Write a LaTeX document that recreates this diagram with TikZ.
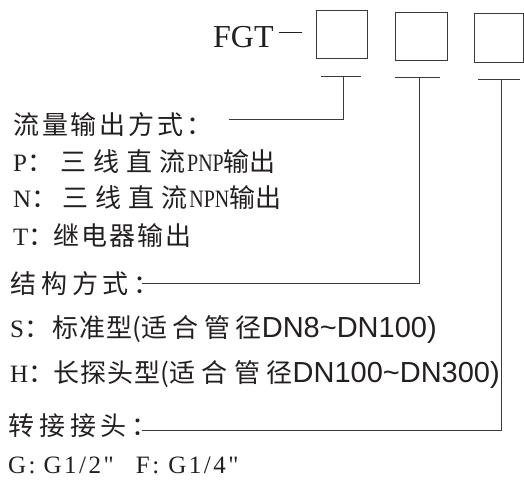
\documentclass[tikz,border=0pt]{standalone}
\usepackage{fontspec}
\setmainfont{Liberation Serif}
\newfontfamily\cjk{Noto Sans CJK SC}
\newfontfamily\arial{Liberation Sans}
\newfontfamily\tnr{Liberation Serif}
\newcommand{\zh}[2]{{\cjk\fontsize{26}{30}\selectfont\addfontfeature{LetterSpace=#1}#2}}
\newcommand{\nar}[1]{{\tnr\fontsize{25}{30}\selectfont\addfontfeature{FakeStretch=0.8}#1}}
\newcommand{\dn}[1]{{\arial\fontsize{29}{34}\selectfont #1}}
\newcommand{\tld}{\char"7E\relax}
\definecolor{ink}{HTML}{231F20}
\definecolor{wire}{HTML}{3A3A3A}
\tikzset{
	txt/.style={anchor=base west, inner sep=0pt, text=ink, font=\fontsize{25}{30}\selectfont},
	codebox/.style={draw=wire, line width=0.9pt, minimum width=51pt, minimum height=48pt, inner sep=0pt},
}
\begin{document}
\begin{tikzpicture}[x=1pt, y=-1pt]
		\useasboundingbox (0,0) rectangle (524,479);
		% model code
		\node (fgt)[txt, font=\fontsize{32}{36}\selectfont] at (213,47) {FGT\hspace{5pt}\rule[14pt]{23pt}{0.9pt}};
		\node (b1)[codebox] at (341.5,34) {};
		\node (b2)[codebox, minimum width=52pt] at (421,36) {};
		\node (b3)[codebox, minimum width=49pt, minimum height=49pt] at (498.5,37.5) {};

		% option texts
		\begin{scope}[every node/.style={txt}]
			\node (out) at (13,134) {\zh{11}{流量输出方式：}};
			\node (pnp) at (13,171) {P\zh{0}{：}\hspace{7pt}\zh{27}{三线直流}\hspace{2pt}\nar{PNP}\zh{0}{输出}};
			\node (npn) at (13,207) {N\zh{0}{：}\hspace{5pt}\zh{27}{三线直流}\hspace{2pt}\nar{NPN}\zh{0}{输出}};
			\node (rel) at (13,245) {T\zh{0}{：}\hspace{-1pt}\zh{8}{继电器输出}};
			\node (str) at (10,293) {\zh{19}{结构方式：}};
			\node (std) at (10,337) {S\zh{0}{：}\hspace{2pt}\zh{5}{标准型}\zh{0}{(}\zh{21}{适合管径}\dn{DN8\tld DN100)}};
			\node (lng) at (10,382) {H\zh{0}{：}\hspace{-1pt}\zh{4}{长探头型}\zh{0}{(}\zh{25}{适合管径}\dn{DN100\tld DN300)}};
			\node (adp) at (8,435) {\zh{19}{转接接头：}};
			\node (thr) at (8,473) {\tnr\addfontfeature{LetterSpace=10}G:\hspace{8pt}G1/2"\hspace{22pt}F:\hspace{9pt}G1/4"};
		\end{scope}

		% brackets under the boxes
		\coordinate (T1l) at (321,76);
		\coordinate (T1r) at (361,76);
		\coordinate (T1) at (343,76);
		\coordinate (K1) at (343,119);
		\coordinate (E1) at (229,119);
		\coordinate (T2l) at (395,77);
		\coordinate (T2r) at (440,77);
		\coordinate (T2) at (419,77);
		\coordinate (K2) at (419,283);
		\coordinate (E2) at (142,283);
		\coordinate (T3l) at (478,79);
		\coordinate (T3r) at (520,79);
		\coordinate (T3) at (501,79);
		\coordinate (K3) at (501,430);
		\coordinate (E3) at (142,430);
		\begin{scope}[every edge/.style={draw=wire, line width=0.9pt}]
			\path [-] (T1l) edge (T1r);
			\path [-] (T2l) edge (T2r);
			\path [-] (T3l) edge (T3r);
		\end{scope}
		\begin{scope}[draw=wire, line width=0.9pt]
			\draw (T1) -- (K1) -- (E1);
			\draw (T2) -- (K2) -- (E2);
			\draw (T3) -- (K3) -- (E3);
		\end{scope}
	\end{tikzpicture}
\end{document}
